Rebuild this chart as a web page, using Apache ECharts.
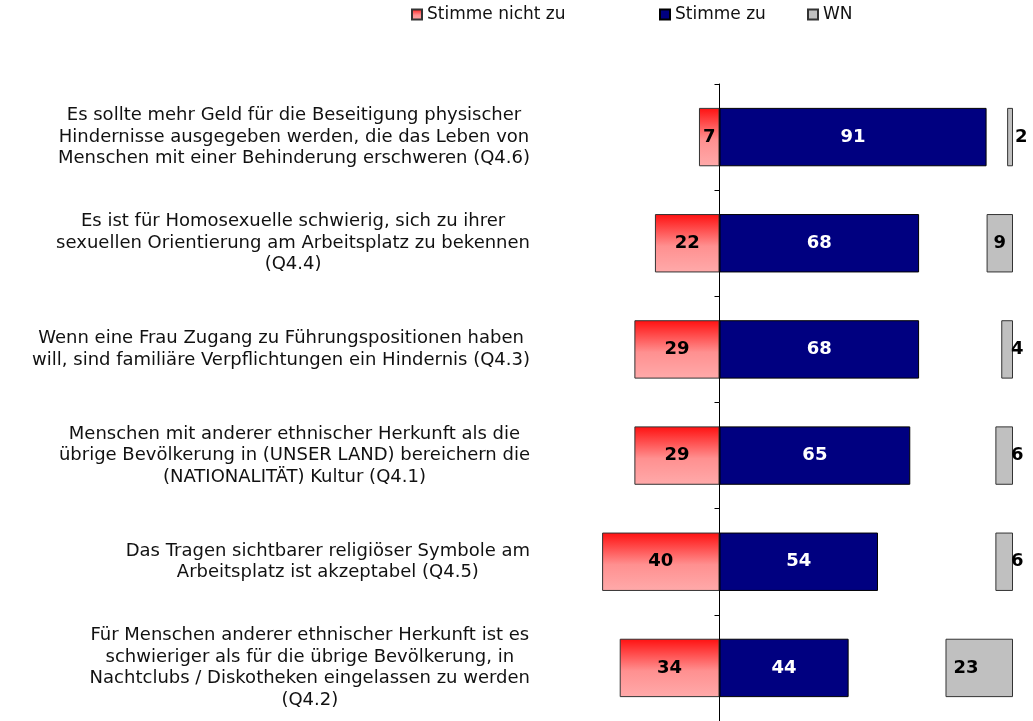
<!DOCTYPE html>
<html>
<head>
<meta charset="utf-8">
<script src="https://cdn.jsdelivr.net/npm/echarts@6/dist/echarts.min.js"></script>
<style>
  html, body { margin: 0; padding: 0; background: #fff; }
  #chart { width: 1033px; height: 721px; }
</style>
</head>
<body>
<div id="chart"></div>
<script>
// Aussagen, von oben nach unten
const statements = [
  'Es sollte mehr Geld für die Beseitigung physischer\nHindernisse ausgegeben werden, die das Leben von\nMenschen mit einer Behinderung erschweren (Q4.6)',
  'Es ist für Homosexuelle schwierig, sich zu ihrer\nsexuellen Orientierung am Arbeitsplatz zu bekennen\n(Q4.4)',
  'Wenn eine Frau Zugang zu Führungspositionen haben\nwill, sind familiäre Verpflichtungen ein Hindernis (Q4.3)',
  'Menschen mit anderer ethnischer Herkunft als die\nübrige Bevölkerung in (UNSER LAND) bereichern die\n(NATIONALITÄT) Kultur (Q4.1)',
  'Das Tragen sichtbarer religiöser Symbole am\nArbeitsplatz ist akzeptabel (Q4.5)',
  'Für Menschen anderer ethnischer Herkunft ist es\nschwieriger als für die übrige Bevölkerung, in\nNachtclubs / Diskotheken eingelassen zu werden\n(Q4.2)'
]
const seriesNames = ['Stimme nicht zu', 'Stimme zu', 'WN']
const disagree = [7, 22, 29, 29, 40, 34]   // Stimme nicht zu
const agree = [91, 68, 68, 65, 54, 44]     // Stimme zu
const dontKnow = [2, 9, 4, 6, 6, 23]       // WN

const FONT = '"DejaVu Sans", Verdana, sans-serif'

// Lage der WN-Beschriftung je Balken (wie im Original)
const wnLabelStyle = [
  { position: 'right', distance: 2 },
  { position: 'inside' },
  { position: 'right', distance: -2 },
  { position: 'right', distance: -2 },
  { position: 'right', distance: -2 },
  { position: 'insideLeft', distance: 8 }
]
// Legendeneinträge stehen nicht gleichmäßig verteilt
const legendLeft = [411, 659, 807]

const chart = echarts.init(document.getElementById('chart'))

const valueLabel = (color) => ({
  show: true,
  position: 'inside',
  fontFamily: FONT,
  fontSize: 18,
  fontWeight: 'bold',
  color: color,
  formatter: (p) => Math.abs(p.value)
})

const option = {
  animation: false,
  legend: seriesNames.map((name, i) => ({
    data: [name],
    left: legendLeft[i],
    top: 6,
    padding: 0,
    itemWidth: 10,
    itemHeight: 10,
    icon: 'rect',
    textStyle: { fontFamily: FONT, fontSize: 17, color: '#111' }
  })),
  grid: { left: 426, right: 20, top: 84, bottom: 0, outerBoundsMode: 'none', containLabel: false },
  xAxis: [
    { type: 'value', min: -100, max: 100, show: false },
    { type: 'value', min: 0, max: 200, inverse: true, show: false }
  ],
  yAxis: {
    type: 'category',
    inverse: true,
    data: statements,
    axisLine: { onZero: true, onZeroAxisIndex: 0, lineStyle: { color: '#000', width: 1 } },
    axisTick: { show: true, length: 5, lineStyle: { color: '#000', width: 1 } },
    axisLabel: {
      // Beschriftung sitzt am Gitterrand, nicht an der Nulllinie
      margin: -104,
      formatter: (v) => v.split('\n').map(l => '{c|' + l + '}').join('\n'),
      rich: {
        c: { align: 'center', fontFamily: FONT, fontSize: 18, lineHeight: 21.5, color: '#111' }
      }
    }
  },
  series: [
    {
      name: seriesNames[0],
      type: 'bar',
      stack: 'total',
      barWidth: '55%',
      barGap: '-100%',
      data: disagree.map(v => -v),
      itemStyle: {
        color: {
          type: 'linear', x: 0, y: 0, x2: 0, y2: 1,
          colorStops: [
            { offset: 0, color: '#ff1010' },
            { offset: 0.55, color: '#ff9090' },
            { offset: 1, color: '#ffaaaa' }
          ]
        },
        borderColor: '#333',
        borderWidth: 1
      },
      label: valueLabel('#000')
    },
    {
      name: seriesNames[1],
      type: 'bar',
      stack: 'total',
      barWidth: '55%',
      barGap: '-100%',
      data: agree,
      itemStyle: { color: '#000080', borderColor: '#000', borderWidth: 1 },
      label: valueLabel('#fff')
    },
    {
      name: seriesNames[2],
      type: 'bar',
      xAxisIndex: 1,
      barWidth: '55%',
      barGap: '-100%',
      data: dontKnow.map((v, i) => ({
        value: v,
        label: wnLabelStyle[i]
      })),
      itemStyle: { color: '#c0c0c0', borderColor: '#333', borderWidth: 1 },
      label: valueLabel('#000')
    }
  ]
}

chart.setOption(option)
</script>
</body>
</html>
